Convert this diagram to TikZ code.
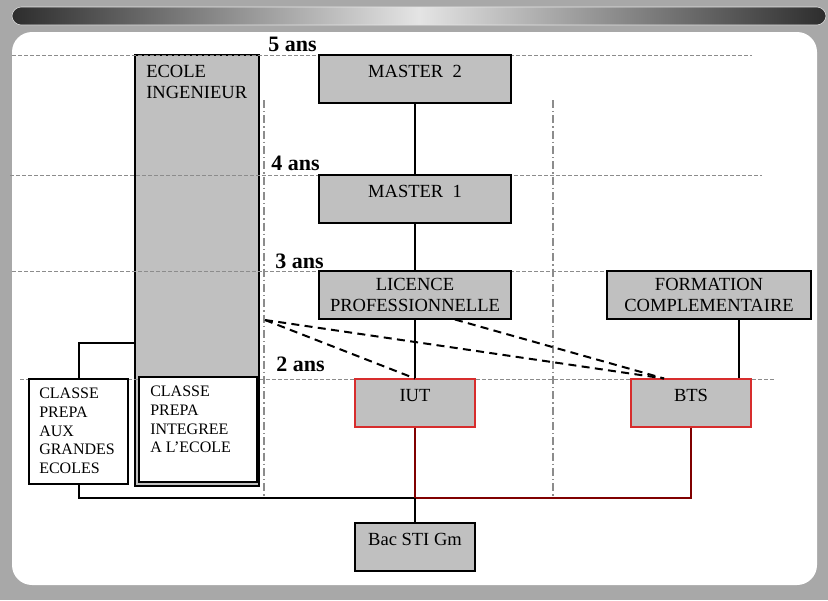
\documentclass[tikz,border=0pt]{standalone}
\usepackage{fontspec}
\setmainfont{Liberation Serif}
\usepackage{xcolor}
\usetikzlibrary{arrows,shapes,calc,positioning}

\definecolor{framegray}{RGB}{168,168,168}
\definecolor{bardark}{RGB}{45,45,45}
\definecolor{barlight}{RGB}{228,228,228}
\definecolor{boxgray}{RGB}{192,192,192}
\definecolor{linegray}{RGB}{140,140,140}
\definecolor{boxred}{RGB}{215,45,45}
\definecolor{linered}{RGB}{128,0,0}

\begin{document}
\begin{tikzpicture}[x=0.75pt,y=-0.75pt]
		\tikzstyle{every node}=[font=\fontsize{13.9}{15.75}\selectfont, inner sep=0pt]
		\tikzstyle{onebox}=[draw, line width=0.8pt, fill=boxgray, minimum width=144pt, text height=16.5pt, text depth=19.5pt]
		\tikzstyle{twobox}=[draw, line width=0.8pt, fill=boxgray, minimum width=144pt, minimum height=36pt, align=center]
		\tikzstyle{redbox}=[onebox, draw=boxred, minimum width=90pt]
		\tikzstyle{whitebox}=[draw, line width=0.8pt, fill=white, minimum height=78.75pt]
		\tikzstyle{smalltext}=[anchor=north west, align=left, font=\fontsize{12}{14}\selectfont]
		\tikzstyle{anslabel}=[anchor=base west, font=\fontsize{16.5}{18}\selectfont\bfseries]
		\tikzstyle{gridline}=[line width=0.75pt, linegray, dash pattern=on 3pt off 1.5pt]
		\tikzstyle{sepline}=[line width=1.5pt, linegray, dash pattern=on 6pt off 2.25pt on 1pt off 2.25pt]
		\tikzstyle{conn}=[line width=1.5pt]
		\tikzstyle{redconn}=[line width=1.5pt, linered]
		\tikzstyle{dashconn}=[line width=1.5pt, dash pattern=on 6pt off 4pt]
		\fill [framegray] (0,0) rectangle (828,600);
		\shadedraw [rounded corners=7pt, left color=bardark, right color=bardark, middle color=barlight, draw=barlight] (12,7) rectangle (826,25);
		\fill [white, rounded corners=15pt] (12,32) rectangle (817,585);
		\node [draw, line width=0.8pt, fill=boxgray, minimum width=93pt, minimum height=323.25pt] (ecole) at (197,270.5) {};
		\draw [gridline] (12,55) -- (752,55);
		\draw [gridline] (10,175) -- (762,175);
		\draw [gridline] (12,271) -- (810,271);
		\draw [gridline] (20,379) -- (775,379);
		\draw [sepline] (264,100) -- (264,498);
		\draw [sepline] (553,100) -- (553,498);
		\node [onebox] (m2) at (415,79) {MASTER~ 2};
		\node [onebox] (m1) at (415,199) {MASTER~ 1};
		\node [twobox] (lic) at (415,295) {LICENCE\\PROFESSIONNELLE};
		\node [twobox, minimum width=153pt] (form) at (709,295) {FORMATION\\COMPLEMENTAIRE};
		\node [redbox] (iut) at (415,403) {IUT};
		\node [redbox] (bts) at (691,403) {BTS};
		\node [onebox, minimum width=90pt] (bac) at (415,547) {Bac STI Gm};
		\node [whitebox, minimum width=88.5pt] (cpi) at (198,429.5) {};
		\node [whitebox, minimum width=74.25pt] (cpge) at (78.5,431.5) {};
		\node [smalltext, font=\fontsize{13.9}{15.75}\selectfont] (ecoletxt) at (146,65) {ECOLE\\INGENIEUR};
		\node [smalltext] (cpitxt) at (150,386) {CLASSE\\PREPA\\INTEGREE\\A L’ECOLE};
		\node [smalltext] (cpgetxt) at (39,388) {CLASSE\\PREPA\\AUX\\GRANDES\\ECOLES};
		\node [anslabel] (a5) at (268,51) {5 ans};
		\node [anslabel] (a4) at (271,170) {4 ans};
		\node [anslabel] (a3) at (275,268) {3 ans};
		\node [anslabel] (a2) at (276,371) {2 ans};
		\coordinate (junc) at (415,498);
		\coordinate (ejoin) at (135,343);
		\coordinate (dsrc) at (265,320);
		\draw [conn] (m2.south) -- (m1.north);
		\draw [conn] (m1.south) -- (lic.north);
		\draw [conn] (lic.south) -- (iut.north);
		\draw [conn] ([xshift=22.5pt]form.south) -- ([xshift=36pt]bts.north);
		\draw [conn] (cpge.north) |- (ejoin);
		\draw [conn] (cpge.south) |- (junc);
		\draw [redconn] (iut.south) -- (junc);
		\draw [redconn] (bts.south) |- (junc);
		\draw [conn] (junc) -- (bac.north);
		\draw [dashconn] (dsrc) -- (iut.north);
		\draw [dashconn] (dsrc) -- ([xshift=-20.25pt]bts.north);
		\draw [dashconn] ([xshift=30pt]lic.south) -- ([xshift=-20.25pt]bts.north);
	\end{tikzpicture}
\end{document}
